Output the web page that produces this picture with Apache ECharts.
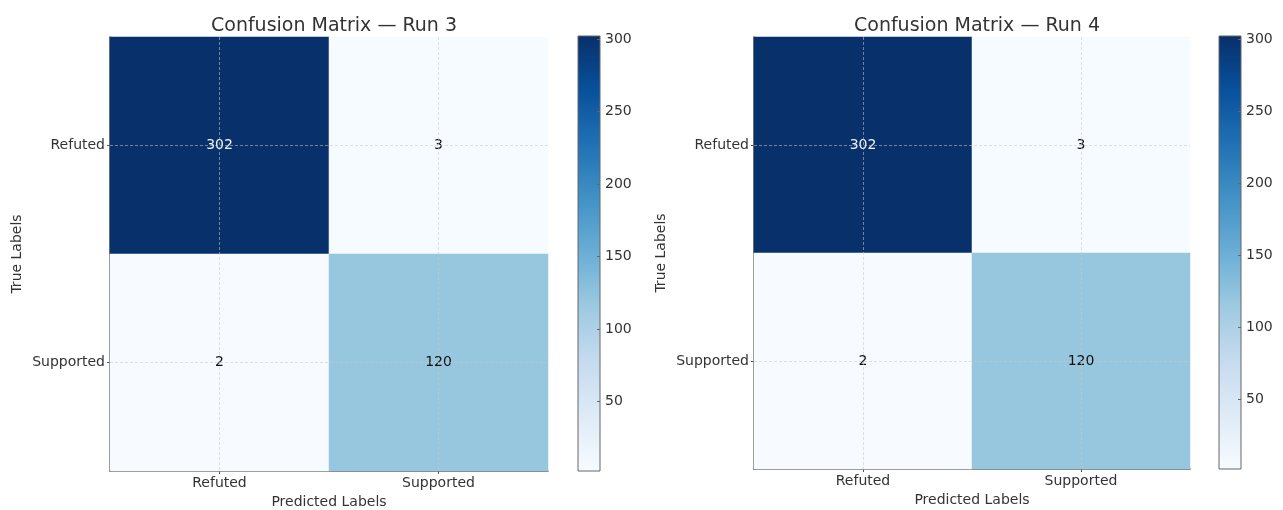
<!DOCTYPE html>
<html>
<head>
<meta charset="utf-8">
<title>Confusion Matrices</title>
<script src="https://cdn.jsdelivr.net/npm/echarts@6/dist/echarts.min.js"></script>
<style>
  html, body { margin: 0; padding: 0; background: #ffffff; }
  #chart { width: 1283px; height: 510px; }
</style>
</head>
<body>
<div id="chart"></div>
<script>
// class names (predicted on x, true on y)
const classes = ['Refuted', 'Supported']
// rows = true label, cols = predicted label
const run3 = [[302, 3], [2, 120]]
const run4 = [[302, 3], [2, 120]]
const titles = ['Confusion Matrix — Run 3', 'Confusion Matrix — Run 4']
const colorbarTicks = [50, 100, 150, 200, 250, 300]
const colorMin = 2
const colorMax = 302

// matplotlib "Blues"
const blues = ['#f7fbff', '#deebf7', '#c6dbef', '#9ecae1', '#6baed6', '#4292c6', '#2171b5', '#08519c', '#08306b']
const font = 'DejaVu Sans'
const textColor = '#333333'
const spineColor = '#555555'

const chart = echarts.init(document.getElementById('chart'))

// layout of each panel
const panels = [
  { left: 110, top: 37, width: 438, height: 434, cbLeft: 578, cbTop: 36, cbHeight: 435, matrix: run3 },
  { left: 754, top: 37, width: 436, height: 432, cbLeft: 1219, cbTop: 36, cbHeight: 433, matrix: run4 }
]

function toCells(matrix) {
  const cells = []
  matrix.forEach((row, i) => {
    row.forEach((v, j) => {
      cells.push({
        value: [j, i, v],
        label: { color: v > (colorMin + colorMax) / 2 ? '#eef2f7' : '#111111' }
      })
    })
  })
  return cells
}

// vertical gradient for the colorbar (max at top)
function colorbarFill() {
  const stops = blues.map((c, i) => ({ offset: 1 - i / (blues.length - 1), color: c }))
  return new echarts.graphic.LinearGradient(0, 0, 0, 1, stops.reverse())
}

const grid = []
const xAxis = []
const yAxis = []
const series = []
const visualMap = []
const title = []

panels.forEach((p, k) => {
  // heatmap grid
  grid.push({ left: p.left, top: p.top, width: p.width, height: p.height, outerBoundsMode: 'none', containLabel: false })
  // colorbar grid
  grid.push({
    left: p.cbLeft, top: p.cbTop, width: 22, height: p.cbHeight,
    outerBoundsMode: 'none', containLabel: false,
    show: true, borderColor: '#666666', borderWidth: 1, backgroundColor: 'transparent', z: 5
  })

  title.push({
    text: titles[k],
    left: p.left + p.width / 2,
    top: 12,
    textAlign: 'center',
    textStyle: { fontFamily: font, fontSize: 19, fontWeight: 'normal', color: textColor }
  })

  xAxis.push({
    type: 'category',
    gridIndex: k * 2,
    data: classes,
    name: 'Predicted Labels',
    nameLocation: 'middle',
    nameGap: 22,
    nameTextStyle: { fontFamily: font, fontSize: 14, color: textColor },
    axisLine: { show: true, lineStyle: { color: spineColor, width: 1.5 } },
    axisTick: { show: true, alignWithLabel: true, length: 3, lineStyle: { color: spineColor } },
    axisLabel: { fontFamily: font, fontSize: 14, color: textColor, margin: 5 },
    splitLine: { show: false }
  })
  yAxis.push({
    type: 'category',
    gridIndex: k * 2,
    data: classes,
    inverse: true,
    name: 'True Labels',
    nameLocation: 'middle',
    nameGap: 86,
    nameTextStyle: { fontFamily: font, fontSize: 14, color: textColor },
    axisLine: { show: true, lineStyle: { color: spineColor, width: 1.5 } },
    axisTick: { show: true, alignWithLabel: true, length: 3, lineStyle: { color: spineColor } },
    axisLabel: { fontFamily: font, fontSize: 14, color: textColor, margin: 5 },
    splitLine: { show: false }
  })

  // colorbar axes
  xAxis.push({ type: 'category', gridIndex: k * 2 + 1, data: ['cb'], show: false })
  yAxis.push({
    type: 'value',
    gridIndex: k * 2 + 1,
    min: colorMin,
    max: colorMax,
    position: 'right',
    z: 10,
    axisLine: { show: false },
    axisTick: { show: true, inside: true, length: 3, customValues: colorbarTicks, lineStyle: { color: '#666666' } },
    axisLabel: { fontFamily: font, fontSize: 14, color: textColor, margin: 5, customValues: colorbarTicks },
    splitLine: { show: false }
  })

  series.push({
    type: 'heatmap',
    xAxisIndex: k * 2,
    yAxisIndex: k * 2,
    data: toCells(p.matrix),
    label: { show: true, fontFamily: font, fontSize: 14 },
    emphasis: { disabled: true },
    markLine: {
      silent: true,
      symbol: ['none', 'none'],
      label: { show: false },
      lineStyle: { type: [3, 2], color: 'rgba(200,200,200,0.7)', width: 0.8 },
      data: [{ xAxis: 0 }, { xAxis: 1 }, { yAxis: 0 }, { yAxis: 1 }]
    }
  })

  visualMap.push({
    type: 'continuous',
    show: false,
    seriesIndex: series.length - 1,
    min: colorMin,
    max: colorMax,
    inRange: { color: blues }
  })

  // colorbar body
  series.push({
    type: 'bar',
    xAxisIndex: k * 2 + 1,
    yAxisIndex: k * 2 + 1,
    data: [colorMax],
    barWidth: '100%',
    silent: true,
    clip: true,
    itemStyle: { color: colorbarFill() }
  })
})

const option = {
  animation: false,
  backgroundColor: '#ffffff',
  title: title,
  grid: grid,
  xAxis: xAxis,
  yAxis: yAxis,
  visualMap: visualMap,
  series: series
}

chart.setOption(option)
</script>
</body>
</html>
